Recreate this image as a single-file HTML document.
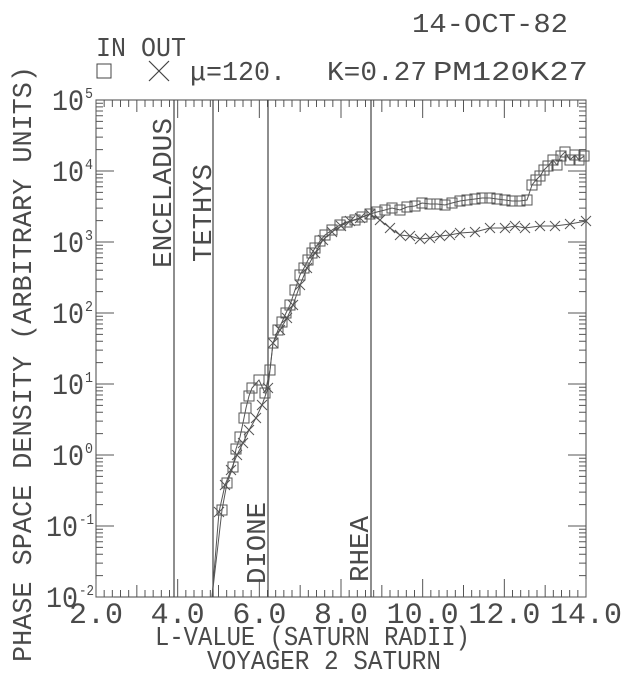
<!DOCTYPE html>
<html><head><meta charset="utf-8"><style>
html,body{margin:0;padding:0;background:#fff;width:640px;height:676px;overflow:hidden}
svg text{font-family:"Liberation Mono","DejaVu Sans Mono",monospace;fill:#4a4a4a}
</style></head><body>
<svg width="640" height="676" viewBox="0 0 640 676" xmlns="http://www.w3.org/2000/svg">
<g id="ticks" stroke="#555" stroke-width="1" fill="none">
<rect x="96" y="100" width="490" height="497" stroke="#444"/>
</g>
<g id="lines" stroke="#444" stroke-width="1.2">
<line x1="174" y1="100" x2="174" y2="597"/>
<line x1="213" y1="100" x2="213" y2="597"/>
<line x1="268" y1="100" x2="268" y2="597"/>
<line x1="371" y1="100" x2="371" y2="597"/>
</g>
<g id="data" fill="none" stroke="#555" stroke-width="1"></g>
<g font-size="27">
<text x="171" y="268" textLength="150" lengthAdjust="spacingAndGlyphs" transform="rotate(-90 171 268)">ENCELADUS</text>
<text x="211" y="262" textLength="98" lengthAdjust="spacingAndGlyphs" transform="rotate(-90 211 262)">TETHYS</text>
<text x="265" y="584" textLength="82" lengthAdjust="spacingAndGlyphs" transform="rotate(-90 265 584)">DIONE</text>
<text x="368" y="582" textLength="66" lengthAdjust="spacingAndGlyphs" transform="rotate(-90 368 582)">RHEA</text>
<text x="31" y="662" textLength="596" lengthAdjust="spacingAndGlyphs" transform="rotate(-90 31 662)">PHASE SPACE DENSITY (ARBITRARY UNITS)</text>
<text x="155" y="645" textLength="315" lengthAdjust="spacingAndGlyphs">L-VALUE (SATURN RADII)</text>
<text x="207" y="669" textLength="234" lengthAdjust="spacingAndGlyphs">VOYAGER 2 SATURN</text>
<text x="412" y="32" textLength="156" lengthAdjust="spacingAndGlyphs">14-OCT-82</text>
<text x="96" y="56" textLength="90" lengthAdjust="spacingAndGlyphs">IN OUT</text>
<text x="190" y="80" textLength="96" lengthAdjust="spacingAndGlyphs">μ=120.</text>
<text x="327" y="80" textLength="100" lengthAdjust="spacingAndGlyphs">K=0.27</text>
<text x="433" y="80" textLength="155" lengthAdjust="spacingAndGlyphs">PM120K27</text>
</g>
<rect x="97" y="64" width="14" height="14" fill="none" stroke="#444"/>
<line x1="149" y1="61" x2="169" y2="81" stroke="#444" stroke-width="1.2"/>
<line x1="169" y1="61" x2="149" y2="81" stroke="#444" stroke-width="1.2"/>
<g font-size="30" id="ylab"></g>
<g font-size="30" id="xlab"></g>
</svg>
<script>
const NS="http://www.w3.org/2000/svg";
function el(p,t,a,txt){const e=document.createElementNS(NS,t);for(const k in a)e.setAttribute(k,a[k]);if(txt!==undefined)e.textContent=txt;document.getElementById(p).appendChild(e);return e;}
const L=96,R=586,T=100,B=597,xs=(R-L)/12,ds=(B-T)/7;
for(let i=0;i<=60;i++){const x=L+i*0.2*xs;const len=i%10==0?18:(i%5==0?12:7);
el('ticks','line',{x1:x,y1:B,x2:x,y2:B-len});el('ticks','line',{x1:x,y1:T,x2:x,y2:T+len});}
for(let d=0;d<7;d++){for(let m=1;m<=9;m++){const y=B-(d+Math.log10(m))*ds;const len=m==1?18:7;
el('ticks','line',{x1:L,y1:y,x2:L+len,y2:y});el('ticks','line',{x1:R,y1:y,x2:R-len,y2:y});}}
const labs=['2.0','4.0','6.0','8.0','10.0','12.0','14.0'];
labs.forEach((s,i)=>{const w=s.length*18;el('xlab','text',{x:L+i*2*xs-w/2,y:623,textLength:w,lengthAdjust:'spacingAndGlyphs'},s);});
for(let d=0;d<=7;d++){const y=B-d*ds;const neg=d<2;
el('ylab','text',{x:neg?46:52,y:y+10,textLength:32,lengthAdjust:'spacingAndGlyphs'},'10');
el('ylab','text',{x:neg?79:85,y:y-2,'font-size':'15',textLength:neg?15:8,lengthAdjust:'spacingAndGlyphs'},String(d-2));}
const IN=[[212,597],[222,510],[227,483],[233,467],[236,449],[240,437],[244,418],[246,408],[249,396],[252,388],[259,380],[265,393],[270,370],[273,343],[278,330],[282,322],[286,313],[290,305],[295,290],[300,275],[304,268],[308,260],[312,253],[315,248],[320,241],[325,235],[332,230],[340,225],[347,222],[355,220],[362,217],[370,214],[377,212],[385,210],[392,208],[400,210],[407,207],[415,206],[422,203],[430,204],[437,204],[445,205],[452,203],[460,201],[467,200],[475,199],[482,198],[490,198],[497,199],[505,200],[512,201],[520,201],[527,200],[532,185],[536,180],[540,176],[544,170],[548,166],[553,160],[557,165],[561,156],[565,152],[570,160],[575,155],[579,160],[584,156]];
const OUT=[[212,597],[219,512],[225,485],[231,470],[237,455],[243,443],[249,430],[256,418],[262,405],[268,388],[273,343],[280,330],[287,318],[293,305],[300,285],[307,268],[315,253],[323,240],[332,232],[341,226],[350,221],[360,218],[370,214],[380,220],[390,228],[400,235],[410,236],[420,239],[430,238],[440,236],[450,235],[460,233],[475,232],[490,228],[505,228],[515,226],[525,228],[540,226],[555,226],[570,224],[586,221]];
el('data','polyline',{points:IN.map(p=>p.join(',')).join(' ')});
el('data','polyline',{points:OUT.map(p=>p.join(',')).join(' ')});
IN.slice(1).forEach(p=>el('data','rect',{x:p[0]-5,y:p[1]-5,width:10,height:10}));
OUT.slice(1).forEach(p=>{el('data','path',{d:`M${p[0]-5},${p[1]-5}L${p[0]+5},${p[1]+5}M${p[0]+5},${p[1]-5}L${p[0]-5},${p[1]+5}`});});
</script>
</body></html>
